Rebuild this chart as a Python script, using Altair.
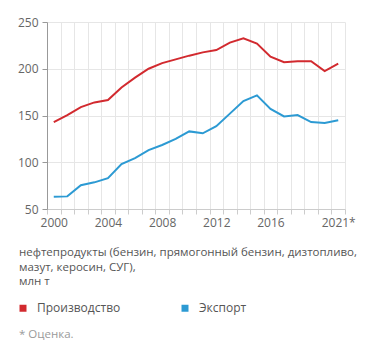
import altair as alt
import pandas as pd

years = list(range(2000, 2022))
production = [143, 150.5, 159, 164, 166.5, 180, 190.5, 200, 206, 210, 214, 217.5,
              220, 228, 232.5, 227, 213, 207, 208, 208, 197.5, 205.5]
export = [63, 63.5, 75.5, 78.5, 83, 98, 104.5, 113, 118.5, 125, 133, 131,
          138.5, 152, 165.5, 171.5, 157, 149, 150.5, 143, 142, 145]
series = ["Производство", "Экспорт"]
colors = ["#d22a2f", "#2c9ad3"]
label_years = [2000, 2004, 2008, 2012, 2016, 2021]
y_ticks = [50, 100, 150, 200, 250]
caption = "нефтепродукты (бензин, прямогонный бензин, дизтопливо,\nмазут, керосин, СУГ),\nмлн т"
footnote = "* Оценка."

FONT = "Open Sans"

df = pd.DataFrame({
    "year": years * 2,
    "value": production + export,
    "series": [series[0]] * len(years) + [series[1]] * len(years),
})

half_years = [y - 0.5 for y in range(2000, 2023)]
label_pos = [y + 0.5 for y in label_years]
label_expr = (
    "indexof([" + ",".join(str(v) for v in label_pos) + "], datum.value) >= 0 ? "
    "(datum.value == 2021.5 ? '2021*' : format(datum.value - 0.5, 'd')) : ''"
)

W, H = 298, 187

lines = alt.Chart(df).mark_line(strokeWidth=2).encode(
    x=alt.X("year:Q",
            scale=alt.Scale(domain=[1999.5, 2021.5], nice=False, zero=False),
            axis=alt.Axis(values=half_years, labelExpr=label_expr, title=None,
                          grid=True, gridColor="#e6e6e6", ticks=True, tickSize=5,
                          tickColor="#cccccc", domainColor="#cccccc",
                          labelOverlap=False, labelFlush=False, labelOffset=-6.8,
                          labelFont=FONT, labelFontSize=12, labelColor="#666666",
                          labelPadding=3)),
    y=alt.Y("value:Q",
            scale=alt.Scale(domain=[50, 250], nice=False, zero=False),
            axis=alt.Axis(values=y_ticks, title=None, grid=True, gridColor="#e6e6e6",
                          tickSize=5, tickColor="#999999", domainColor="#999999",
                          labelFont=FONT, labelFontSize=12, labelColor="#666666",
                          labelPadding=4)),
    color=alt.Color("series:N",
                    scale=alt.Scale(domain=series, range=colors),
                    legend=alt.Legend(orient="none", legendX=-30, legendY=280,
                                      direction="horizontal", columns=2,
                                      title=None, symbolType="square",
                                      symbolSize=1, symbolStrokeWidth=6,
                                      labelFont=FONT, labelFontSize=12,
                                      labelColor="#555555", labelOffset=8,
                                      columnPadding=51)),
)

cap = alt.Chart(pd.DataFrame({"t": [caption]})).mark_text(
    align="left", baseline="middle", font=FONT, fontSize=11.5,
    color="#555555", lineBreak="\n", lineHeight=14.5
).encode(x=alt.value(-28), y=alt.value(231), text="t:N")

foot = alt.Chart(pd.DataFrame({"t": [footnote]})).mark_text(
    align="left", baseline="middle", font=FONT, fontSize=11.5, color="#9a9a9a"
).encode(x=alt.value(-28), y=alt.value(313), text="t:N")

chart = alt.layer(lines, cap, foot).properties(
    width=W, height=H,
    autosize=alt.AutoSizeParams(type="none"),
    padding={"left": 47, "top": 22, "right": 26, "bottom": 148},
).configure_view(stroke=None)

chart.save("out.html", embed_options={"renderer": "svg", "actions": False})
